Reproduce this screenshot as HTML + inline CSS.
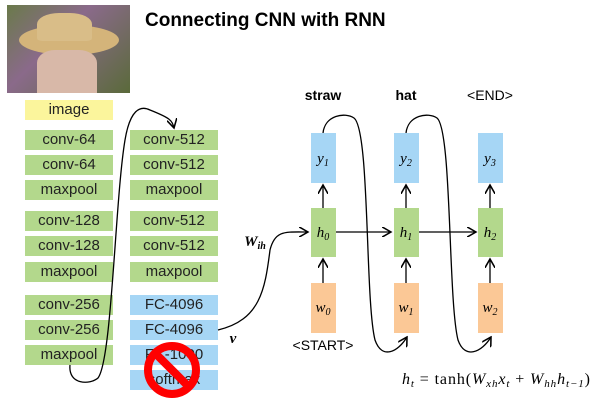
<!DOCTYPE html><html><head><style>
body{margin:0;width:602px;height:400px;background:#fff;position:relative;overflow:hidden;font-family:"Liberation Sans",sans-serif}
.b{position:absolute;width:88px;height:20px;line-height:20px;text-align:center;font-size:15px;color:#222;background:#b3d88c}
.f{background:#a6d6f5}
</style></head><body>
<div style="position:absolute;left:7px;top:5px;width:123px;height:88px;background:linear-gradient(135deg,#6a7a4a,#8a6a8a 40%,#5a6a3a);">
<div style="position:absolute;left:12px;top:20px;width:100px;height:30px;border-radius:50%;background:#d4b47a"></div>
<div style="position:absolute;left:30px;top:8px;width:55px;height:28px;border-radius:40% 40% 10% 10%;background:#d9bd88"></div>
<div style="position:absolute;left:30px;top:45px;width:60px;height:43px;background:#d8b8a8;border-radius:30% 30% 0 0"></div>
</div>
<div style="position:absolute;left:145px;top:10px;font-size:19px;font-weight:bold">Connecting CNN with RNN</div>
<div class="b" style="left:25px;top:100px;background:#fbf59c">image</div>
<div class="b" style="left:25px;top:130px">conv-64</div>
<div class="b" style="left:25px;top:155px">conv-64</div>
<div class="b" style="left:25px;top:180px">maxpool</div>
<div class="b" style="left:25px;top:211px">conv-128</div>
<div class="b" style="left:25px;top:236px">conv-128</div>
<div class="b" style="left:25px;top:262px">maxpool</div>
<div class="b" style="left:25px;top:295px">conv-256</div>
<div class="b" style="left:25px;top:320px">conv-256</div>
<div class="b" style="left:25px;top:345px">maxpool</div>
<div class="b" style="left:130px;top:130px">conv-512</div>
<div class="b" style="left:130px;top:155px">conv-512</div>
<div class="b" style="left:130px;top:180px">maxpool</div>
<div class="b" style="left:130px;top:211px">conv-512</div>
<div class="b" style="left:130px;top:236px">conv-512</div>
<div class="b" style="left:130px;top:262px">maxpool</div>
<div class="b f" style="left:130px;top:295px">FC-4096</div>
<div class="b f" style="left:130px;top:320px">FC-4096</div>
<div class="b f" style="left:130px;top:345px">FC-1000</div>
<div class="b f" style="left:130px;top:370px">softmax</div>
<svg style="position:absolute;left:0;top:0" width="602" height="400">
<defs><marker id="a" markerWidth="8" markerHeight="8" refX="7" refY="4" orient="auto"><path d="M0,0 L7,4 L0,8" fill="none" stroke="#000" stroke-width="1.2"/></marker></defs>
<g fill="none" stroke="#000" stroke-width="1.3">
<path d="M70,365 C68,385 90,385 98,378 C112,360 115,200 125,140 C130,110 140,105 150,110 C170,118 172,120 174,128" marker-end="url(#a)"/>
<path d="M218,330 C260,320 265,290 270,250 C275,230 285,232 308,232" marker-end="url(#a)"/>
<path d="M336,232 H391" marker-end="url(#a)"/>
<path d="M419,232 H476" marker-end="url(#a)"/>
<path d="M323,208 V185" marker-end="url(#a)"/><path d="M406,208 V185" marker-end="url(#a)"/><path d="M490,208 V185" marker-end="url(#a)"/>
<path d="M323,283 V259" marker-end="url(#a)"/><path d="M406,283 V259" marker-end="url(#a)"/><path d="M490,283 V259" marker-end="url(#a)"/>
<path d="M323,133 C325,115 345,112 354,118 C370,130 365,300 375,340 C382,360 398,352 407,337" marker-end="url(#a)"/>
<path d="M406,133 C408,115 428,112 437,118 C452,130 448,300 458,340 C465,360 482,352 491,337" marker-end="url(#a)"/>
</g>
<g fill="#a6d6f5"><rect x="311" y="133" width="25" height="50"/><rect x="394" y="133" width="25" height="50"/><rect x="478" y="133" width="25" height="50"/></g>
<g fill="#b3d88c"><rect x="311" y="208" width="25" height="49"/><rect x="394" y="208" width="25" height="49"/><rect x="478" y="208" width="25" height="49"/></g>
<g fill="#fbc896"><rect x="311" y="283" width="25" height="50"/><rect x="394" y="283" width="25" height="50"/><rect x="478" y="283" width="25" height="50"/></g>
<g font-family="Liberation Serif,serif" font-style="italic" font-size="15" text-anchor="middle">
<text x="323" y="163">y<tspan font-size="10" dy="3">1</tspan></text><text x="406" y="163">y<tspan font-size="10" dy="3">2</tspan></text><text x="490" y="163">y<tspan font-size="10" dy="3">3</tspan></text>
<text x="323" y="237">h<tspan font-size="10" dy="3">0</tspan></text><text x="406" y="237">h<tspan font-size="10" dy="3">1</tspan></text><text x="490" y="237">h<tspan font-size="10" dy="3">2</tspan></text>
<text x="323" y="312">w<tspan font-size="10" dy="3">0</tspan></text><text x="406" y="312">w<tspan font-size="10" dy="3">1</tspan></text><text x="490" y="312">w<tspan font-size="10" dy="3">2</tspan></text>
<text x="255" y="246" font-weight="bold" font-size="15">W<tspan font-size="10" dy="3">ih</tspan></text>
<text x="233" y="343" font-weight="bold">v</text>
</g>
<g font-size="14" text-anchor="middle"><text x="323" y="100" font-weight="bold">straw</text><text x="406" y="100" font-weight="bold">hat</text><text x="490" y="100">&lt;END&gt;</text><text x="323" y="350">&lt;START&gt;</text></g>
<text x="402" y="384" font-family="Liberation Serif,serif" font-size="16" textLength="188"><tspan font-style="italic">h<tspan font-size="11" dy="3">t</tspan></tspan><tspan dy="-3"> = tanh(</tspan><tspan font-style="italic">W<tspan font-size="11" dy="3">xh</tspan><tspan dy="-3">x</tspan><tspan font-size="11" dy="3">t</tspan></tspan><tspan dy="-3"> + </tspan><tspan font-style="italic">W<tspan font-size="11" dy="3">hh</tspan><tspan dy="-3">h</tspan><tspan font-size="11" dy="3">t−1</tspan></tspan><tspan dy="-3">)</tspan></text>
<circle cx="172" cy="370" r="24" fill="none" stroke="#f00" stroke-width="8"/>
<line x1="155" y1="353" x2="189" y2="387" stroke="#f00" stroke-width="8"/>
</svg>
</body></html>
